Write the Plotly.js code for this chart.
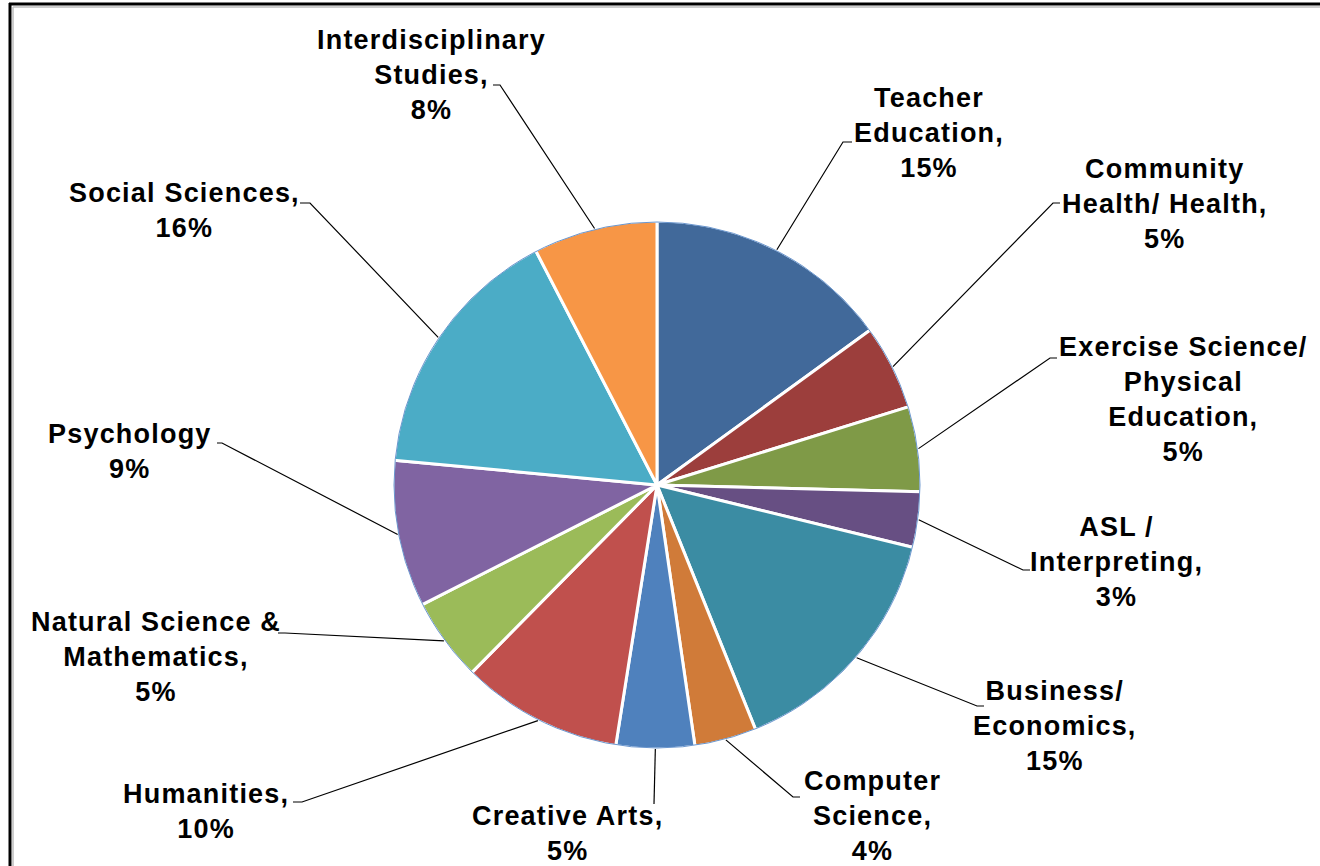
<!DOCTYPE html>
<html>
<head>
<meta charset="utf-8">
<script src="https://cdn.plot.ly/plotly-3.0.1.min.js"></script>
<style>
html,body{margin:0;padding:0;background:#fff;}
#chart{width:1320px;height:866px;}
.annotation-text{letter-spacing:1.2px;}
</style>
</head>
<body>
<div id="chart"></div>
<script>
// ---- data ----
var categories = ["Teacher Education", "Community Health/ Health", "Exercise Science/ Physical Education",
  "ASL / Interpreting", "Business/ Economics", "Computer Science", "Creative Arts", "Humanities",
  "Natural Science & Mathematics", "Psychology", "Social Sciences", "Interdisciplinary Studies"];
var values = [15.0, 5.2, 5.2, 3.4, 15.1, 3.8, 4.8, 9.9, 5.1, 9.0, 15.9, 7.6];
var labelLines = ["Teacher<br>Education,", "Community<br>Health/ Health,", "Exercise Science/<br>Physical<br>Education,",
  "ASL /<br>Interpreting,", "Business/<br>Economics,", "Computer<br>Science,", "Creative Arts,", "Humanities,",
  "Natural Science &<br>Mathematics,", "Psychology", "Social Sciences,", "Interdisciplinary<br>Studies,"];
var colors = ["#41699A", "#9C3E3C", "#7F9A47", "#674F83", "#3B8CA3", "#D07B39", "#4F81BD", "#C0504D",
  "#9BBB59", "#8064A2", "#4BACC6", "#F79646"];

// ---- layout (pixel positions of label blocks and leader elbows) ----
var W = 1320, H = 866;
var pieCx = 657, pieCy = 485, pieR = 264;
var labelX = [929, 1165, 1183, 1116, 1055, 872, 567, 206, 156, 130, 184, 431];
var labelY = [133, 204, 399, 562, 726, 816, 833, 811, 657, 451, 211, 75];
var elbowX = [843, 1053, 1050, 1023, 977, 793, 654, 302, 285, 222, 310, 500];
var elbowY = [142, 203, 358, 570, 706, 797, 804, 802, 633, 443, 203, 85];
var tailX  = [852, 1060, 1057, 1030, 984, 800, 654, 293, 278, 217, 300, 493];

function px(x) { return x / W; }
function py(y) { return 1 - y / H; }

var total = values.reduce(function (a, b) { return a + b; }, 0);

var annotations = [];
var shapes = [];
var cum = 0;
for (var i = 0; i < values.length; i++) {
  var pct = Math.round(values[i] / total * 100);
  annotations.push({
    xref: 'paper', yref: 'paper', x: px(labelX[i]), y: py(labelY[i]),
    xanchor: 'center', yanchor: 'middle', align: 'center', showarrow: false,
    text: '<b>' + labelLines[i] + '<br>' + pct + '%</b>',
    font: { family: 'Liberation Sans, Arial, sans-serif', size: 27, color: '#000' }
  });
  // mid angle of slice (clockwise from 12 o'clock)
  var mid = (cum + values[i] / 2) / total * 2 * Math.PI;
  cum += values[i];
  var sx = pieCx + pieR * Math.sin(mid);
  var sy = pieCy - pieR * Math.cos(mid);
  shapes.push({
    type: 'path', xref: 'paper', yref: 'paper', layer: 'above',
    path: 'M' + px(sx) + ',' + py(sy) + ' L' + px(elbowX[i]) + ',' + py(elbowY[i]) +
          ' L' + px(tailX[i]) + ',' + py(elbowY[i]),
    line: { color: '#000', width: 1.2 }
  });
}

// outline circle of pie
shapes.push({
  type: 'circle', xref: 'paper', yref: 'paper', layer: 'above',
  x0: px(pieCx - pieR + 1), x1: px(pieCx + pieR - 1), y0: py(pieCy + pieR - 1), y1: py(pieCy - pieR + 1),
  line: { color: '#6A96CE', width: 1 }
});
// frame
shapes.push({ type: 'line', xref: 'paper', yref: 'paper', x0: px(9), x1: px(1320), y0: py(4), y1: py(4), line: { color: '#000', width: 3 } });
shapes.push({ type: 'line', xref: 'paper', yref: 'paper', x0: px(10), x1: px(10), y0: py(3), y1: py(866), line: { color: '#000', width: 3 } });
shapes.push({ type: 'line', xref: 'paper', yref: 'paper', x0: px(13), x1: px(1320), y0: py(7), y1: py(7), line: { color: '#BDBDBD', width: 1.5 } });
shapes.push({ type: 'line', xref: 'paper', yref: 'paper', x0: px(13), x1: px(13), y0: py(7), y1: py(866), line: { color: '#BDBDBD', width: 1.5 } });

var trace = {
  type: 'pie',
  labels: categories,
  values: values,
  sort: false,
  direction: 'clockwise',
  rotation: 0,
  textinfo: 'none',
  hoverinfo: 'label+percent',
  marker: { colors: colors, line: { color: '#FFFFFF', width: 3 } },
  domain: { x: [px(pieCx - pieR), px(pieCx + pieR)], y: [py(pieCy + pieR), py(pieCy - pieR)] },
  showlegend: false
};

var layout = {
  width: W, height: H,
  margin: { l: 0, r: 0, t: 0, b: 0 },
  paper_bgcolor: '#FFFFFF',
  showlegend: false,
  annotations: annotations,
  shapes: shapes
};

Plotly.newPlot('chart', [trace], layout, { displayModeBar: false, staticPlot: true });
</script>
</body>
</html>
